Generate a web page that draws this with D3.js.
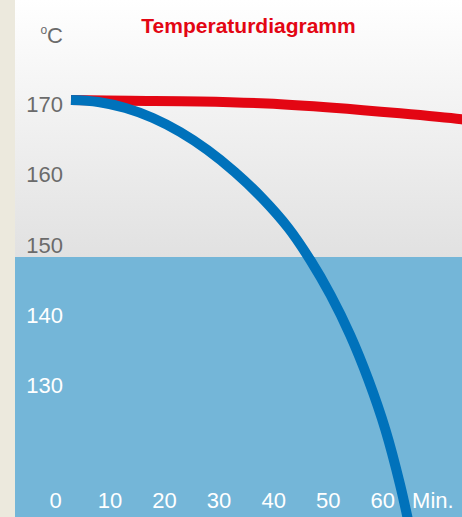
<!DOCTYPE html>
<html><head><meta charset="utf-8">
<script src="https://cdn.jsdelivr.net/npm/d3@7/dist/d3.min.js"></script>
<style>html,body{margin:0;padding:0;background:#fff;}svg{display:block;}</style>
</head><body>
<script>
const title = "Temperaturdiagramm";
const unitY = "C";
const unitX = "Min.";
const yTicks = [170, 160, 150, 140, 130];
const xTicks = [0, 10, 20, 30, 40, 50, 60];
const threshold = 147.65;
const redTime = [2.84, 13.7, 26.5, 38.8, 50.9, 63.2, 74.5, 77];
const redTemp = [170, 169.9, 169.8, 169.5, 168.9, 168.1, 167.25, 167.0];
const blueTime = [2.84, 7.85, 12.85, 17.86, 22.86, 27.87, 32.87, 37.88, 42.7, 46.72, 50.44, 54.03, 57.39, 60.51, 63.2, 65.04, 66.0];
const blueTemp = [170, 169.72, 168.86, 167.44, 165.44, 162.88, 159.75, 156.05, 151.78, 147.22, 142.24, 136.55, 130.14, 123.03, 115.2, 108.79, 105.2];

const W = 462, H = 517;
const svg = d3.select("body").append("svg").attr("width", W).attr("height", H);
const x = d3.scaleLinear().domain([0, 60]).range([55.5, 382.7]);
const y = d3.scaleLinear().domain([170, 160]).range([100, 170.25]);

const defs = svg.append("defs");
const g = defs.append("linearGradient").attr("id", "bg").attr("x1", 0).attr("x2", 0).attr("y1", 0).attr("y2", 1);
g.append("stop").attr("offset", "0%").attr("stop-color", "#ffffff");
g.append("stop").attr("offset", "100%").attr("stop-color", "#e1e1e1");
defs.append("clipPath").attr("id", "plot").append("rect").attr("x", 15).attr("y", 0).attr("width", W - 15).attr("height", H);

svg.append("rect").attr("x", 0).attr("y", 0).attr("width", 15).attr("height", H).attr("fill", "#ece9dd");
svg.append("rect").attr("x", 15).attr("y", 0).attr("width", W - 15).attr("height", y(threshold)).attr("fill", "url(#bg)");
svg.append("rect").attr("x", 15).attr("y", y(threshold)).attr("width", W - 15).attr("height", H - y(threshold)).attr("fill", "#74b6d8");

svg.append("text").attr("x", 248.5).attr("y", 33).attr("text-anchor", "middle")
  .attr("font-family", "Liberation Sans, Arial, sans-serif").attr("font-weight", "bold")
  .attr("font-size", 21).attr("fill", "#e30613").text(title);

const font = "Liberation Sans, Arial, sans-serif";
const u = svg.append("text").attr("x", 63).attr("y", 43).attr("text-anchor", "end")
  .attr("font-family", font).attr("font-size", 22).attr("fill", "#6b6b6b");
u.append("tspan").attr("font-size", 12).attr("dy", -9).text("o");
u.append("tspan").attr("dy", 9).text(unitY);

svg.append("g").selectAll("text").data(yTicks).join("text")
  .attr("x", 63).attr("y", d => y(d) + 12).attr("text-anchor", "end")
  .attr("font-family", font).attr("font-size", 22)
  .attr("fill", d => d >= 150 ? "#6b6b6b" : "#ffffff").text(d => d);

const lines = svg.append("g").attr("clip-path", "url(#plot)");
const line = d3.line().x(d => x(d[0])).y(d => y(d[1])).curve(d3.curveCatmullRom.alpha(0.5));
lines.append("path").datum(redTime.map((t, i) => [t, redTemp[i]]))
  .attr("d", line).attr("fill", "none").attr("stroke", "#e30613").attr("stroke-width", 10);
lines.append("path").datum(blueTime.map((t, i) => [t, blueTemp[i]]))
  .attr("d", line).attr("fill", "none").attr("stroke", "#0072bb").attr("stroke-width", 10);

svg.append("g").selectAll("text").data(xTicks).join("text")
  .attr("x", d => x(d)).attr("y", 508).attr("text-anchor", "middle")
  .attr("font-family", font).attr("font-size", 22).attr("fill", "#ffffff").text(d => d);
svg.append("text").attr("x", x(69.2)).attr("y", 508).attr("text-anchor", "middle")
  .attr("font-family", font).attr("font-size", 22).attr("fill", "#ffffff").text(unitX);
</script>
</body></html>
